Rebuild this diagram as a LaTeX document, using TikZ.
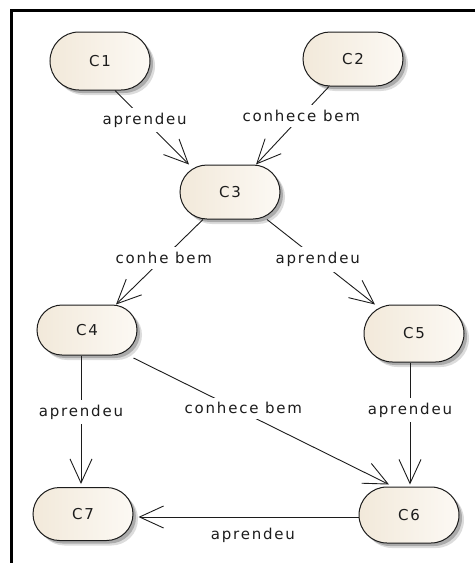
\documentclass[tikz,border=0pt]{standalone}
\usepackage{fontspec}
\setmainfont{DejaVu Sans}[LetterSpace=12]
\usetikzlibrary{arrows.meta,shadows,calc,shapes.misc}

\definecolor{conceptfill}{RGB}{242,233,218}
\definecolor{conceptlight}{RGB}{252,249,244}
\definecolor{inkdark}{RGB}{28,28,28}

\tikzset{
  concept/.style={
    rounded rectangle, minimum width=100pt, minimum height=54pt,
    inner sep=0pt, draw=inkdark, line width=1pt,
    left color=conceptfill, right color=conceptlight,
    drop shadow={shadow xshift=5pt, shadow yshift=-5pt, fill=black!30, opacity=0.45},
    drop shadow={shadow xshift=3pt, shadow yshift=-3pt, fill=black!45, opacity=0.6},
    font=\fontsize{15pt}{18pt}\selectfont, text=inkdark},
  link/.style={draw=inkdark, line width=0.9pt,
    -{Straight Barb[length=24pt,width=22pt,line width=0.9pt]}},
  linklabel/.style={fill=white, inner xsep=3pt, inner ysep=5pt,
    font=\fontsize{15pt}{18pt}\selectfont, text=inkdark},
}

\begin{document}
\begin{tikzpicture}[x=1pt,y=-1pt]
  \useasboundingbox (0,0) rectangle (475,563);

  % frame edges along top and left
  \draw[line width=3pt] (475,10.5) -- (11.5,10.5) -- (11.5,563);

  % concepts
  \node[concept, minimum height=58pt] (C1) at (100,61)    {C1};
  \node[concept]                      (C2) at (353,59)    {C2};
  \node[concept]                      (C3) at (230,192)   {C3};
  \node[concept, minimum height=50pt] (C4) at (87,330)    {C4};
  \node[concept, minimum height=57pt] (C5) at (414,333.5) {C5};
  \node[concept, minimum height=56pt] (C6) at (409,515)   {C6};
  \node[concept, minimum height=53pt] (C7) at (83,514)    {C7};

  % relations
  \draw[link] ($(C1.south)+(15,0)$)
    -- node[linklabel, pos=0.4] {aprendeu} ($(C3.north)+(-41,0)$);
  \draw[link] ($(C2.south)+(-24,0)$)
    -- node[linklabel, pos=0.38] {conhece bem} ($(C3.north)+(26,0)$);
  \draw[link] ($(C3.south)+(-27,0)$)
    -- node[linklabel, pos=0.45] {conhe bem} ($(C4.north)+(29,0)$);
  \draw[link] ($(C3.south)+(37,0)$)
    -- node[linklabel, pos=0.47] {aprendeu} ($(C5.north)+(-39,0)$);
  \draw[link] ($(C4.south)+(-6,0)$)
    -- node[linklabel, pos=0.44] {aprendeu} ($(C7.north)+(-2,-3)$);
  \draw[link] ($(C4.east)+(-4,28)$)
    -- node[linklabel, pos=0.43, yshift=4pt] {conhece bem} ($(C6.north west)+(2,-2)$);
  \draw[link] ($(C5.south)+(-4,0)$)
    -- node[linklabel, pos=0.39] {aprendeu} ($(C6.north)+(1,-2)$);
  \draw[link] ($(C6.west)+(0,2)$)
    -- node[linklabel, pos=0.48, below=6pt, fill=none] {aprendeu} ($(C7.east)+(5,3)$);
\end{tikzpicture}
\end{document}
